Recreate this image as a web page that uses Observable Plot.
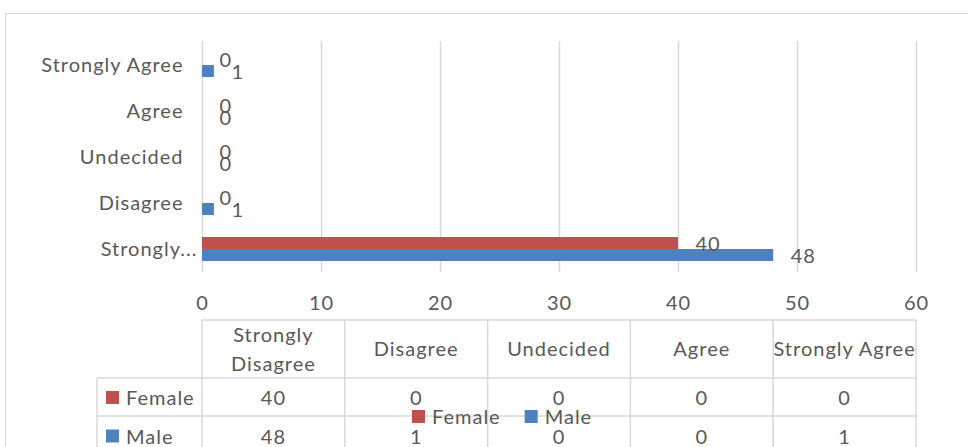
<!DOCTYPE html>
<html>
<head>
<meta charset="utf-8">
<script src="https://cdn.jsdelivr.net/npm/d3@7"></script>
<script src="https://cdn.jsdelivr.net/npm/@observablehq/plot@0.6"></script>
<style>
  body { margin: 0; background: #fff; }
  #wrap { position: relative; width: 968px; height: 447px; overflow: hidden; background: #fff;
          font-family: Lato, sans-serif; color: #595959; }
  #wrap > svg { position: absolute; left: 0; top: 0; }
  #frame { position: absolute; left: 5px; top: 13px; width: 1000px; height: 500px;
           border: 1.5px solid #d9d9d9; box-sizing: border-box; pointer-events: none; }
</style>
</head>
<body>
<div id="wrap"></div>
<script>
// ---- data ----
const categories = ["Strongly Disagree", "Disagree", "Undecided", "Agree", "Strongly Agree"];
const axisLabels = ["Strongly...", "Disagree", "Undecided", "Agree", "Strongly Agree"];
const tableHeaders = [["Strongly", "Disagree"], ["Disagree"], ["Undecided"], ["Agree"], ["Strongly Agree"]];
const series = ["Female", "Male"];
const female = [40, 0, 0, 0, 0];
const male = [48, 1, 0, 0, 1];
const xTicks = [0, 10, 20, 30, 40, 50, 60];
const colors = ["#C0504D", "#4F81BD"];

const values = [female, male];
const rows = categories.flatMap((c, i) => series.map((s, j) => ({category: c, series: s, value: values[j][i]})));
const of = s => rows.filter(d => d.series === s);
const labelOf = d => axisLabels[categories.indexOf(d)];
const truncated = categories.filter((c, i) => axisLabels[i] !== c);
const fullLabels = categories.filter((c, i) => axisLabels[i] === c);

const FONT = "Lato, sans-serif";
const FS = 20;
const LS = "1px";
const TXT = "#595959";
const GRID = "#d9d9d9";

const chart = Plot.plot({
  width: 968,
  height: 320,
  marginLeft: 202,
  marginRight: 52,
  marginTop: 41,
  marginBottom: 48,
  style: {fontFamily: FONT, fontSize: FS + "px", letterSpacing: LS, color: TXT, background: "transparent", overflow: "visible"},
  x: {domain: [0, 60]},
  y: {domain: categories.slice().reverse(), padding: 0},
  marks: [
    Plot.gridX(xTicks, {stroke: GRID, strokeOpacity: 1, strokeWidth: 1.5}),
    Plot.axisX({ticks: xTicks, tickSize: 0, tickPadding: 23, label: null}),
    Plot.axisY({ticks: fullLabels, tickSize: 0, tickPadding: 19, label: null, tickFormat: labelOf}),
    Plot.axisY({ticks: truncated, tickSize: 0, tickPadding: 5, label: null, tickFormat: labelOf}),
    Plot.barX(of("Female"), {x: "value", y: "category", fill: colors[0], insetTop: 17, insetBottom: 17, dy: -6}),
    Plot.barX(of("Male"), {x: "value", y: "category", fill: colors[1], insetTop: 17, insetBottom: 17, dy: 6}),
    Plot.text(of("Female"), {x: "value", y: "category", text: d => String(d.value), textAnchor: "start", dx: 17, dy: -5}),
    Plot.text(of("Male"), {x: "value", y: "category", text: d => String(d.value), textAnchor: "start", dx: 17, dy: 7})
  ]
});
const wrap = document.getElementById("wrap");
wrap.appendChild(chart);

// ---- data table under the chart ----
const xs = chart.scale("x");
const tx0 = xs.apply(0), tx1 = xs.apply(60);
const colW = (tx1 - tx0) / categories.length;
const tTop = 320, hBot = 378, r1Bot = 416, r2Bot = 455, keyLeft = 97;

const tbl = d3.select(wrap).append("svg")
  .attr("width", 968).attr("height", 447)
  .attr("font-family", FONT).attr("font-size", FS).attr("letter-spacing", LS).attr("fill", TXT);

const gl = tbl.append("g").attr("stroke", GRID).attr("stroke-width", 1.5);
gl.append("line").attr("x1", tx0).attr("x2", tx1).attr("y1", tTop).attr("y2", tTop);
[hBot, r1Bot].forEach(y => gl.append("line").attr("x1", keyLeft).attr("x2", tx1).attr("y1", y).attr("y2", y));
d3.range(categories.length + 1).forEach(i =>
  gl.append("line").attr("x1", tx0 + i * colW).attr("x2", tx0 + i * colW).attr("y1", tTop).attr("y2", 447));
gl.append("line").attr("x1", keyLeft).attr("x2", keyLeft).attr("y1", hBot).attr("y2", 447);

// headers
tableHeaders.forEach((lines, i) => {
  const cx = tx0 + (i + 0.5) * colW;
  const cy = (tTop + hBot) / 2;
  const lh = 29;
  lines.forEach((t, k) => {
    tbl.append("text").attr("x", cx).attr("y", cy + (k - (lines.length - 1) / 2) * lh)
      .attr("text-anchor", "middle").attr("dy", "0.36em").text(t);
  });
});
// rows
const rowMid = [(hBot + r1Bot) / 2 + 1, (r1Bot + r2Bot) / 2 + 1];
series.forEach((s, j) => {
  tbl.append("rect").attr("x", keyLeft + 9).attr("y", rowMid[j] - 7).attr("width", 13).attr("height", 13).attr("fill", colors[j]);
  tbl.append("text").attr("x", keyLeft + 29).attr("y", rowMid[j]).attr("dy", "0.36em").text(s);
  values[j].forEach((v, i) => {
    tbl.append("text").attr("x", tx0 + (i + 0.5) * colW).attr("y", rowMid[j]).attr("dy", "0.36em")
      .attr("text-anchor", "middle").text(String(v));
  });
});

// ---- legend (overlapping the table, as in the original) ----
const leg = tbl.append("g");
const legY = 417;
let lx = 412;
series.forEach((s, j) => {
  leg.append("rect").attr("x", lx).attr("y", legY - 7).attr("width", 13).attr("height", 13).attr("fill", colors[j]);
  const t = leg.append("text").attr("x", lx + 20).attr("y", legY).attr("dy", "0.36em").text(s);
  lx += 20 + t.node().getComputedTextLength() + 24;
});

const frame = document.createElement("div");
frame.id = "frame";
wrap.appendChild(frame);
</script>
</body>
</html>
